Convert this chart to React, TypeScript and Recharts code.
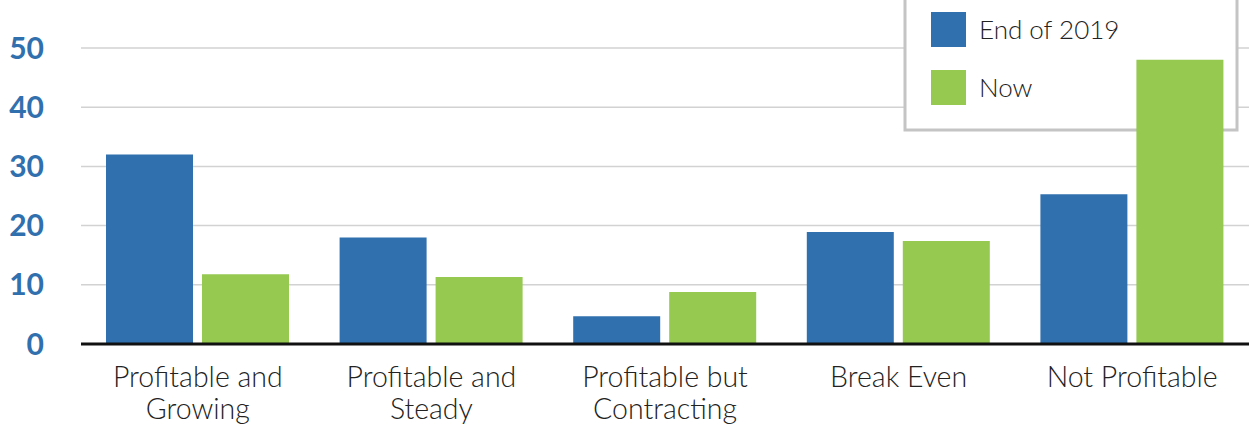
import { Bar, BarChart, CartesianGrid, Customized, XAxis, YAxis } from "recharts";

const categories = [
  "Profitable and|Growing",
  "Profitable and|Steady",
  "Profitable but|Contracting",
  "Break Even",
  "Not Profitable",
];
const end2019 = [32, 18, 4.7, 18.9, 25.3];
const now = [11.8, 11.3, 8.8, 17.4, 48];
const yTicks = [0, 10, 20, 30, 40, 50];

const BLUE = "#3170ae";
const GREEN = "#95c950";

const data = categories.map((c, i) => ({ name: c, end2019: end2019[i], now: now[i] }));

function CategoryTick({ x, y, payload }: any) {
  const lines = String(payload.value).split("|");
  return (
    <text
      x={x}
      y={y}
      textAnchor="middle"
      fill="#222"
      fontFamily="Lato, sans-serif"
      fontWeight={300}
      fontSize={28.5}
    >
      {lines.map((l, i) => (
        <tspan key={i} x={x} dy={i === 0 ? 35 : 32}>
          {l}
        </tspan>
      ))}
    </text>
  );
}

function LegendBox() {
  return (
    <g>
      <rect x={905} y={-10} width={332} height={140} fill="#fff" stroke="#c4c4c4" strokeWidth={3} />
      <rect x={931} y={12} width={35} height={35} fill={BLUE} />
      <rect x={931} y={70} width={35} height={35} fill={GREEN} />
      <text x={979} y={39} fill="#222" fontFamily="Lato, sans-serif" fontWeight={300} fontSize={26}>
        End of 2019
      </text>
      <text x={979} y={97} fill="#222" fontFamily="Lato, sans-serif" fontWeight={300} fontSize={26}>
        Now
      </text>
    </g>
  );
}

export default function App() {
  return (
    <div style={{ position: "absolute", left: 0, top: 0, background: "#fff" }}>
      <BarChart
        width={1249}
        height={431}
        data={data}
        margin={{ top: 48, right: 0, left: 0, bottom: 0 }}
        barGap={9}
        barCategoryGap={25}
      >
        <CartesianGrid horizontal vertical={false} stroke="#d2d2d2" strokeWidth={1.5} />
        <YAxis
          width={81}
          domain={[0, 50]}
          ticks={yTicks}
          axisLine={false}
          tickLine={false}
          tick={{ fill: BLUE, fontSize: 30, fontWeight: 700, fontFamily: "Lato, sans-serif" }}
          tickMargin={31}
        />
        <XAxis
          dataKey="name"
          height={87}
          axisLine={{ stroke: "#111", strokeWidth: 3 }}
          tickLine={false}
          interval={0}
          tick={<CategoryTick />}
        />
        <Customized component={LegendBox} />
        <Bar dataKey="end2019" name="End of 2019" fill={BLUE} isAnimationActive={false} />
        <Bar dataKey="now" name="Now" fill={GREEN} isAnimationActive={false} />
      </BarChart>
    </div>
  );
}
